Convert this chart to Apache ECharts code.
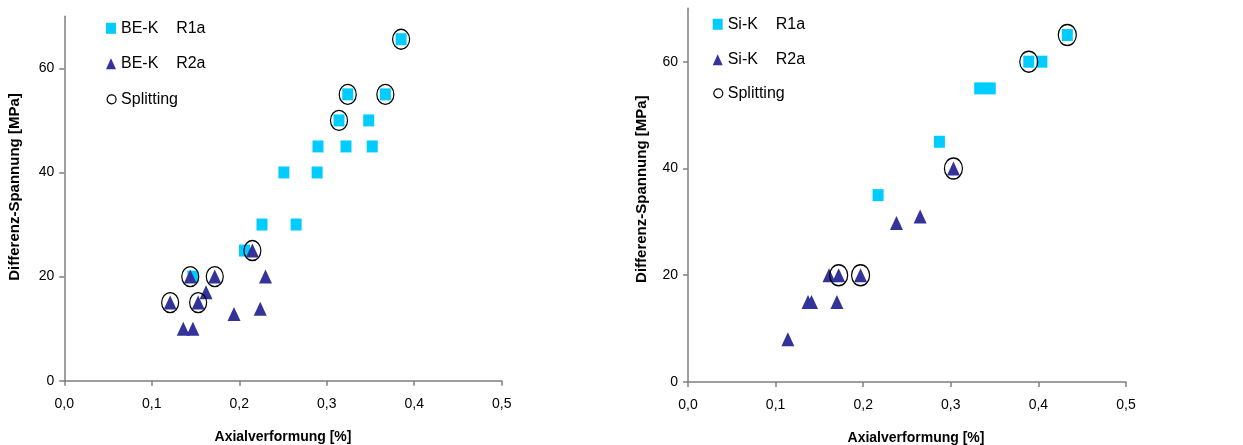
<!DOCTYPE html>
<html>
<head>
<meta charset="utf-8">
<script src="https://cdn.jsdelivr.net/npm/echarts@6/dist/echarts.min.js"></script>
<style>
html,body{margin:0;padding:0;background:#fff;}
#chart{width:1243px;height:445px;}
</style>
</head>
<body>
<div id="chart"></div>
<script>
// ---- data ----
const xTickValues = [0, 0.1, 0.2, 0.3, 0.4, 0.5];
const yTickValues = [0, 20, 40, 60];

const leftNames = ['BE-K    R1a', 'BE-K    R2a'];
const rightNames = ['Si-K    R1a', 'Si-K    R2a'];
const splitName = 'Splitting';

const beR1a = [[0.385,65.6],[0.324,55],[0.367,55],[0.314,50],[0.348,50],[0.290,45],[0.322,45],[0.352,45],[0.251,40],[0.289,40],[0.226,30],[0.265,30],[0.206,25],[0.147,20]];
const beR2a = [[0.215,25],[0.144,20],[0.172,20],[0.230,20],[0.162,17],[0.121,15],[0.153,15],[0.194,12.8],[0.224,13.8],[0.136,10],[0.147,10]];
const beSplit = [[0.385,65.6],[0.324,55],[0.367,55],[0.314,50],[0.215,25],[0.144,20],[0.172,20],[0.121,15],[0.153,15]];

const siR1a = [[0.433,65],[0.389,60],[0.404,60],[0.333,55],[0.345,55],[0.287,45],[0.217,35]];
const siR2a = [[0.303,40],[0.265,31],[0.238,29.8],[0.172,20],[0.197,20],[0.161,20],[0.137,15],[0.141,15],[0.170,15],[0.114,8]];
const siSplit = [[0.433,65],[0.389,60],[0.303,40],[0.172,20],[0.197,20]];

// ---- styling ----
const FONT = '"Liberation Sans", Arial, sans-serif';
const AXIS_COLOR = '#7f7f7f';
const CYAN = '#00CCFF';
const NAVY = '#333399';
const ELLIPSE = 'path://M1,0 A1,1 0 1,1 -1,0 A1,1 0 1,1 1,0 Z';

function xAxis(gridIndex, padLeft) {
  return {
    type: 'value', gridIndex: gridIndex, min: 0, max: 0.5, interval: 0.1,
    name: 'Axialverformung [%]', nameLocation: 'middle', nameGap: 49,
    nameTextStyle: { fontFamily: FONT, fontSize: 14, fontWeight: 'bold', color: '#000', padding: [0, 0, 0, padLeft] },
    axisLine: { show: true, onZero: false, lineStyle: { color: AXIS_COLOR, width: 1.5 } },
    axisTick: { show: true, length: 5, customValues: xTickValues, lineStyle: { color: AXIS_COLOR, width: 1.5 } },
    axisLabel: { customValues: xTickValues, margin: 16, fontFamily: FONT, fontSize: 14, color: '#000',
      formatter: v => Number(v).toFixed(1).replace('.', ',') },
    splitLine: { show: false }
  };
}
function yAxis(gridIndex, gap, padLeft) {
  return {
    type: 'value', gridIndex: gridIndex, min: 0, max: 70, interval: 20,
    name: 'Differenz-Spannung [MPa]', nameLocation: 'middle', nameGap: gap,
    nameTextStyle: { fontFamily: FONT, fontSize: 15, fontWeight: 'bold', color: '#000', padding: [0, 0, 0, padLeft] },
    axisLine: { show: true, onZero: false, lineStyle: { color: AXIS_COLOR, width: 1.5 } },
    axisTick: { show: true, length: 5, customValues: yTickValues, lineStyle: { color: AXIS_COLOR, width: 1.5 } },
    axisLabel: { customValues: yTickValues, margin: 10, fontFamily: FONT, fontSize: 14, color: '#000' },
    splitLine: { show: false }
  };
}
function squares(name, data, idx) {
  return { type: 'scatter', name: name, data: data, xAxisIndex: idx, yAxisIndex: idx,
    symbol: 'rect', symbolSize: [11, 12], itemStyle: { color: CYAN, opacity: 1 }, z: 2 };
}
function triangles(name, data, idx) {
  return { type: 'scatter', name: name, data: data, xAxisIndex: idx, yAxisIndex: idx,
    symbol: 'triangle', symbolSize: [13, 14], itemStyle: { color: NAVY, opacity: 1 }, z: 3 };
}
function splits(data, idx, size) {
  return { type: 'scatter', name: splitName, data: data, xAxisIndex: idx, yAxisIndex: idx,
    symbol: ELLIPSE, symbolSize: size, silent: true,
    itemStyle: { color: 'rgba(0,0,0,0)', borderColor: '#000', borderWidth: 1.3, opacity: 1 }, z: 4 };
}
function legendMain(names, left, top) {
  return {
    orient: 'vertical', left: left, top: top, itemWidth: 10, itemHeight: 11, itemGap: 19.5,
    selectedMode: false, data: names,
    textStyle: { fontFamily: FONT, fontSize: 16, color: '#000' }
  };
}
function legendSplit(left, top) {
  return {
    orient: 'vertical', left: left, top: top, itemWidth: 9, itemHeight: 9,
    selectedMode: false,
    data: [{ name: splitName, icon: 'circle', itemStyle: { color: 'rgba(0,0,0,0)', borderColor: '#000', borderWidth: 1.2 } }],
    textStyle: { fontFamily: FONT, fontSize: 16, color: '#000' }
  };
}

const chart = echarts.init(document.getElementById('chart'), null, { renderer: 'canvas' });
chart.setOption({
  animation: false,
  backgroundColor: '#fff',
  grid: [
    { left: 64.3, top: 16.3, width: 437.4, height: 364.4, containLabel: false, outerBoundsMode: 'none' },
    { left: 688, top: 8.3, width: 438, height: 373.7, containLabel: false, outerBoundsMode: 'none' }
  ],
  xAxis: [xAxis(0, 0), xAxis(1, 18)],
  yAxis: [yAxis(0, 42, 23), yAxis(1, 39, 12)],
  legend: [
    legendMain(leftNames, 101, 15.3),
    legendSplit(101.5, 86.3),
    legendMain(rightNames, 707.7, 11.3),
    legendSplit(708.2, 80.3)
  ],
  series: [
    squares(leftNames[0], beR1a, 0),
    triangles(leftNames[1], beR2a, 0),
    splits(beSplit, 0, [17, 20]),
    squares(rightNames[0], siR1a, 1),
    triangles(rightNames[1], siR2a, 1),
    splits(siSplit, 1, [18, 21])
  ]
});
</script>
</body>
</html>
